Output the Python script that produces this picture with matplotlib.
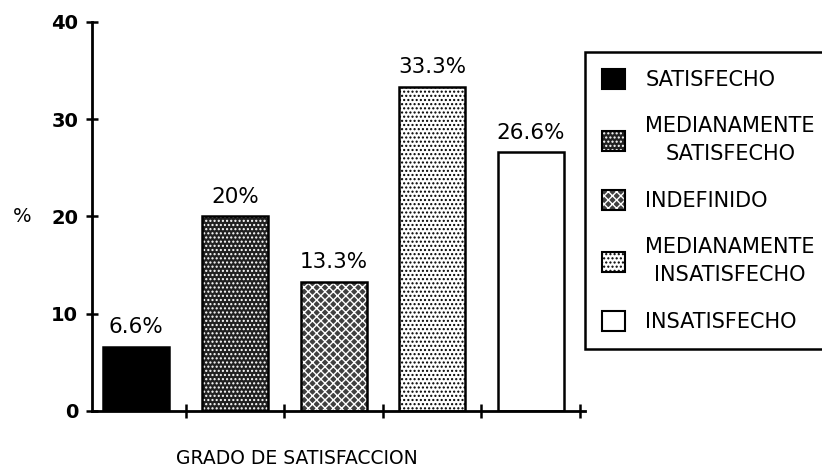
import matplotlib
matplotlib.use("Agg")
import matplotlib.pyplot as plt
from matplotlib.patches import Patch

# Data
categories = ['SATISFECHO', 'MEDIANAMENTE\nSATISFECHO', 'INDEFINIDO',
              'MEDIANAMENTE\nINSATISFECHO', 'INSATISFECHO']
values = [6.6, 20, 13.3, 33.3, 26.6]
value_labels = ['6.6%', '20%', '13.3%', '33.3%', '26.6%']
y_ticks = [0, 10, 20, 30, 40]

# fill styles: (facecolor, hatch, hatch colour)
styles = [
    ('black', None, 'black'),
    ('#202020', '....', 'white'),
    ('#404040', 'xxxx', 'white'),
    ('white', '....', 'black'),
    ('white', None, 'black'),
]

plt.rcParams['font.family'] = 'DejaVu Sans'
plt.rcParams['hatch.linewidth'] = 1.0

fig = plt.figure(figsize=(8.22, 4.72), dpi=100, facecolor='w')
ax = fig.add_axes([92 / 822, 1 - 411 / 472, 493 / 822, 389 / 472])

x = list(range(len(values)))
handles = []
for i, v in enumerate(values):
    fc, hatch, hc = styles[i]
    ax.bar(x[i], v, width=0.67, color=fc, edgecolor=hc, hatch=hatch,
           linewidth=0, zorder=2)
    ax.bar(x[i], v, width=0.67, fill=False, edgecolor='black',
           linewidth=1.8, zorder=3)
    handles.append((Patch(facecolor=fc, edgecolor=hc, hatch=hatch, linewidth=0),
                    Patch(fill=False, edgecolor='black', linewidth=1.5)))
    ax.annotate(value_labels[i], (x[i], v), xytext=(0, 7),
                textcoords='offset points', ha='center', va='bottom',
                fontsize=15.5)

# Decorations
ax.set_xlim(-0.45, 4.55)
ax.set_ylim(0, 40)
ax.set_yticks(y_ticks)
ax.set_yticklabels([str(t) for t in y_ticks], fontsize=14, fontweight='bold')
ax.set_xticks([0.5, 1.5, 2.5, 3.5, 4.5])
ax.set_xticklabels([])
ax.tick_params(axis='y', direction='inout', length=8, width=1.8, pad=6)
ax.tick_params(axis='x', direction='inout', length=10, width=1.8)
for s in ['top', 'right']:
    ax.spines[s].set_visible(False)
for s in ['left', 'bottom']:
    ax.spines[s].set_linewidth(2)

fig.text(22 / 822, 1 - 216 / 472, '%', fontsize=14,
         ha='center', va='center')
fig.text(297 / 822, 1 - 458 / 472, 'GRADO DE SATISFACCION', fontsize=13.5,
         ha='center', va='center')

leg = fig.legend(handles, categories, loc='upper left',
                 bbox_to_anchor=(585 / 822, 1 - 52 / 472), fontsize=15,
                 frameon=True, fancybox=False, edgecolor='black', framealpha=1,
                 handlelength=1.1, handleheight=1.1, handletextpad=1.0,
                 labelspacing=1.25, borderpad=0.8, borderaxespad=0)
leg.get_frame().set_linewidth(1.8)
for t in leg.get_texts():
    t.set_multialignment('center')
    t.set_linespacing(1.5)

plt.savefig("out.png", dpi=100)
